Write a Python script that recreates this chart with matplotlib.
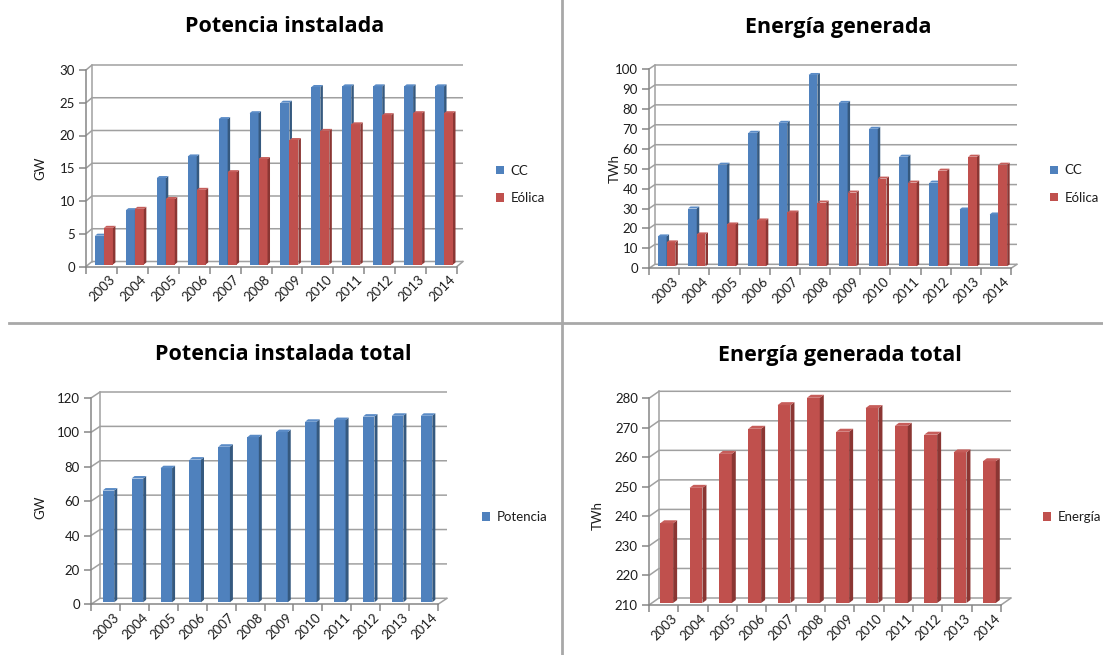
import numpy as np
import matplotlib
matplotlib.use("Agg")
import matplotlib.pyplot as plt
from matplotlib import transforms
from matplotlib.patches import Polygon, Patch
from matplotlib.lines import Line2D

plt.rcParams['font.family'] = ['Lato', 'DejaVu Sans']

# ---- data -----------------------------------------------------------------
years = [str(y) for y in range(2003, 2015)]

cc_gw = [4.4, 8.3, 13.2, 16.5, 22.2, 23.1, 24.7, 27.1, 27.2, 27.2, 27.2, 27.2]
eolica_gw = [5.6, 8.5, 10.0, 11.4, 14.1, 16.1, 19.0, 20.4, 21.4, 22.8, 23.1, 23.1]

cc_twh = [15, 29, 51, 67, 72, 96, 82, 69, 55, 42, 28.5, 26]
eolica_twh = [12, 16, 21, 23, 27, 32, 37, 44, 42, 48, 55, 51]

potencia_total = [65, 72, 78, 83, 90.5, 96, 99, 105, 106, 108, 108.5, 108.5]
energia_total = [237, 249, 260.5, 269, 277, 279.5, 268, 276, 270, 267, 261, 258]

# ---- styling ----------------------------------------------------------------
W, H = 1103, 655
BLUE = ('#4F81BD', '#35597F', '#5A8BC6')
RED = ('#C0504D', '#8B3633', '#C65D5A')
GRID = '#A0A0A0'
AXIS = '#868686'
TXT = '#1C1C1C'
TITLE_FONT = ['Open Sans', 'DejaVu Sans']

fig = plt.figure(figsize=(W / 100, H / 100), dpi=100)
fig.patch.set_facecolor('white')


def draw_panel(box, ylim, step, series, colors, names, ylabel, ylabel_xy,
               title, title_xy, legend_xy, wall, depth, bar_w, shift):
    left, right, top, bottom = box
    ax = fig.add_axes([left / W, 1 - bottom / H, (right - left) / W, (bottom - top) / H])
    ax.set_facecolor('none')
    n = len(years)
    ymin, ymax = ylim

    # pixel -> data conversion factors
    sx = n / (right - left)
    sy = (ymax - ymin) / (bottom - top)
    wdx, wdy = wall[0] * sx, wall[1] * sy
    bdx, bdy = depth[0] * sx, depth[1] * sy

    # back wall with its gridlines
    ticks = np.arange(ymin, ymax + step / 2, step)
    for v in ticks:
        ax.plot([0, wdx, n + wdx], [v, v + wdy, v + wdy], color=GRID, lw=1.1,
                clip_on=False, zorder=1, solid_capstyle='butt')
    ax.plot([wdx, wdx], [ymin + wdy, ymax + wdy], color=GRID, lw=1.1,
            clip_on=False, zorder=1)
    ax.plot([n, n + wdx], [ymin, ymin + wdy], color=GRID, lw=1.1,
            clip_on=False, zorder=1)

    # pseudo-3D bars: front face from ax.bar, side and top faces from its rectangles
    off = transforms.offset_copy(ax.transData, fig=fig, x=shift[0], y=shift[1], units='dots')
    k = len(series)
    centers = np.arange(n) + 0.5
    for j, (vals, col) in enumerate(zip(series, colors)):
        xs = centers - k * bar_w / 2 + j * bar_w
        heights = np.asarray(vals, dtype=float) - ymin
        bars = ax.bar(xs, heights, bottom=ymin, width=bar_w, align='edge',
                      color=col[0], edgecolor='none', transform=off,
                      zorder=3 + j, clip_on=False)
        for rect in bars:
            x0 = rect.get_x()
            x1 = x0 + rect.get_width()
            y0 = rect.get_y()
            y1 = y0 + rect.get_height()
            ax.add_patch(Polygon([(x1, y0), (x1 + bdx, y0 + bdy), (x1 + bdx, y1 + bdy), (x1, y1)],
                                 closed=True, fc=col[1], ec='none', transform=off,
                                 zorder=3 + j, clip_on=False))
            ax.add_patch(Polygon([(x0, y1), (x0 + bdx, y1 + bdy), (x1 + bdx, y1 + bdy), (x1, y1)],
                                 closed=True, fc=col[2], ec='none', transform=off,
                                 zorder=3 + j, clip_on=False))

    ax.set_xlim(0, n)
    ax.set_ylim(ymin, ymax)

    for s in ('top', 'right'):
        ax.spines[s].set_visible(False)
    for s in ('left', 'bottom'):
        ax.spines[s].set_color(AXIS)
        ax.spines[s].set_linewidth(1.1)
        ax.spines[s].set_zorder(2)

    ax.set_yticks(ticks)
    ax.set_yticklabels([f'{int(t)}' for t in ticks])
    ax.tick_params(axis='y', direction='out', length=5, width=1.1, color=AXIS,
                   labelsize=9.5, labelcolor=TXT, pad=3)

    ax.set_xticks(np.arange(n + 1))
    ax.set_xticklabels([])
    ax.tick_params(axis='x', which='major', direction='out', length=5, width=1.1, color=AXIS)
    ax.set_xticks(centers + 0.25, minor=True)
    ax.set_xticklabels(years, minor=True, rotation=45, ha='right', rotation_mode='anchor',
                       fontsize=9.5, color=TXT)
    ax.tick_params(axis='x', which='minor', length=0, pad=5)

    fig.text(ylabel_xy[0] / W, 1 - ylabel_xy[1] / H, ylabel, rotation=90,
             ha='center', va='center', fontsize=9.5, color=TXT)
    fig.text(title_xy[0] / W, 1 - title_xy[1] / H, title, ha='center', va='center',
             fontsize=15.5, fontweight='bold', color='black', family=TITLE_FONT)

    handles = [Patch(facecolor=c[0], edgecolor='none', label=nm) for c, nm in zip(colors, names)]
    fig.legend(handles=handles, loc='center left',
               bbox_to_anchor=(legend_xy[0] / W, 1 - legend_xy[1] / H),
               frameon=False, fontsize=9.5, handlelength=0.6, handleheight=0.6,
               handletextpad=0.5, labelspacing=1.15, borderpad=0, borderaxespad=0,
               labelcolor=TXT)
    return ax


draw_panel((86, 457, 70, 266.5), (0, 30), 5, [cc_gw, eolica_gw], [BLUE, RED],
           ['CC', 'Eólica'], 'GW', (40, 168), 'Potencia instalada', (285, 27),
           (496, 184.5), wall=(6, 5), depth=(2.5, 2), bar_w=0.29, shift=(2.5, 2))

draw_panel((649, 1011, 69, 268.3), (0, 100), 10, [cc_twh, eolica_twh], [BLUE, RED],
           ['CC', 'Eólica'], 'TWh', (615, 168), 'Energía generada', (838, 27),
           (1050, 184), wall=(6, 4), depth=(2.5, 2), bar_w=0.29, shift=(2.5, 2))

draw_panel((91, 438, 398, 604.3), (0, 120), 20, [potencia_total], [BLUE],
           ['Potencia'], 'GW', (40, 507), 'Potencia instalada total', (283, 355),
           (482, 517), wall=(9, 6), depth=(3, 2.5), bar_w=0.4, shift=(3, 2))

draw_panel((649, 1001, 398.3, 605), (210, 280), 10, [energia_total], [RED],
           ['Energía'], 'TWh', (598, 515), 'Energía generada total', (840, 355),
           (1043, 517), wall=(10, 7), depth=(4, 3), bar_w=0.44, shift=(3, 2))

# panel separators
fig.add_artist(Line2D([9 / W, 1.0], [1 - 323 / H] * 2, color='#A8A8A8', lw=2,
                      transform=fig.transFigure))
fig.add_artist(Line2D([562 / W] * 2, [0.0, 1.0], color='#A8A8A8', lw=2,
                      transform=fig.transFigure))

fig.savefig('out.png', dpi=100, facecolor='white')
